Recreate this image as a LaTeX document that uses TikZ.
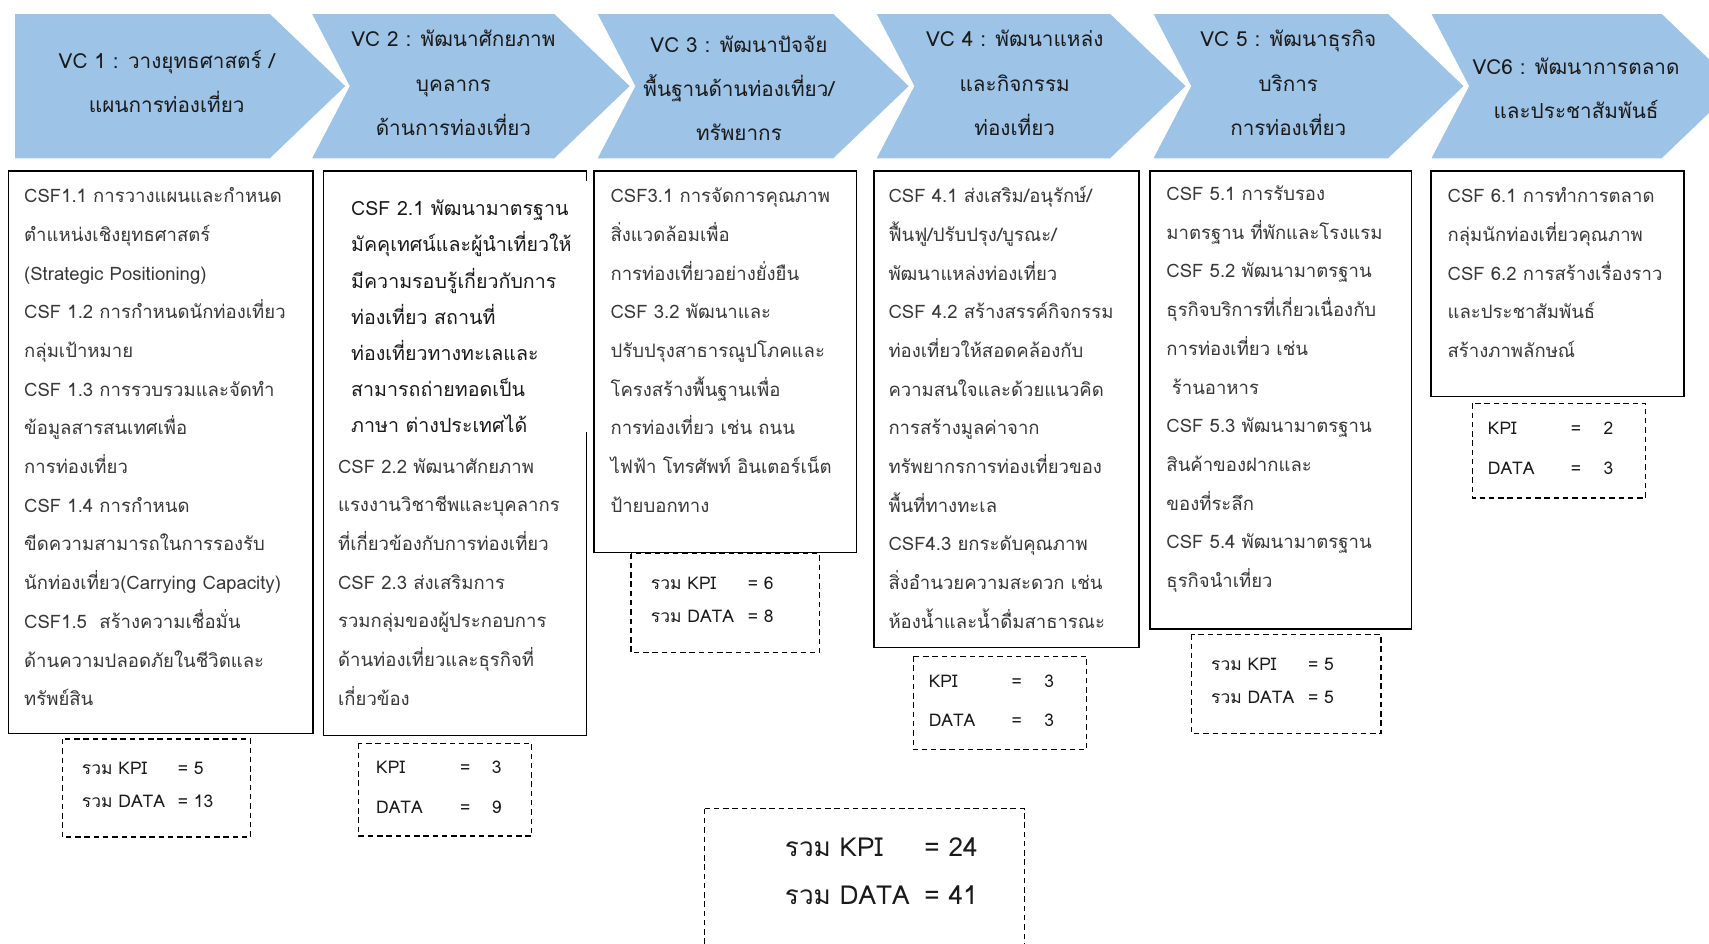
\documentclass[tikz,border=0pt]{standalone}
\usepackage{fontspec}
\setmainfont[Script=Thai]{Loma}
\definecolor{chev}{HTML}{9DC3E6}
\definecolor{txt}{HTML}{383838}
\definecolor{dtxt}{HTML}{1A1A1A}
\newcommand\blk[1]{\parbox[t]{420pt}{\raggedright #1}}
\newcommand\cblk[1]{\parbox[t]{300pt}{\centering #1}}
\tikzset{
  chevron/.style={fill=chev, draw=white, line width=1.5pt},
  csfbox/.style={draw=black, line width=1.3pt},
  sumbox/.style={draw=black, line width=1.1pt, dash pattern=on 5pt off 3.5pt},
  vctext/.style={anchor=base, inner sep=0pt, text=dtxt, font=\fontsize{19}{40.5}\selectfont},
  csftext/.style={anchor=base west, inner sep=0pt, text=txt, font=\fontsize{17}{35.5}\selectfont},
  sumtext/.style={anchor=base west, inner sep=0pt, text=dtxt, font=\fontsize{16}{30}\selectfont},
}
\begin{document}
\begin{tikzpicture}[x=1pt,y=-1pt]
\useasboundingbox (0,0) rectangle (1568,866);
\clip (0,0) rectangle (1568,866);
\fill[white] (0,0) rectangle (1568,866);

% chevrons
\draw[chevron] (13,12) -- (248,12) -- (318,79) -- (248,146) -- (13,146) -- cycle;
\draw[chevron] (285,12) -- (509,12) -- (579,79) -- (509,146) -- (285,146) -- (320,79) -- cycle;
\draw[chevron] (547,12) -- (765,12) -- (835,79) -- (765,146) -- (547,146) -- (582,79) -- cycle;
\draw[chevron] (803,12) -- (1019,12) -- (1089,79) -- (1019,146) -- (803,146) -- (838,79) -- cycle;
\draw[chevron] (1057,12) -- (1274,12) -- (1344,79) -- (1274,146) -- (1057,146) -- (1092,79) -- cycle;
\draw[chevron] (1312,12) -- (1525,12) -- (1595,79) -- (1525,146) -- (1312,146) -- (1347,79) -- cycle;

\node[vctext] (vc1) at (153,63) {\cblk{VC 1 : วางยุทธศาสตร์ /\\แผนการท่องเที่ยว}};
\node[vctext] (vc2) at (416,43) {\cblk{VC 2 : พัฒนาศักยภาพ\\บุคลากร\\ด้านการท่องเที่ยว}};
\node[vctext] (vc3) at (678,48) {\cblk{VC 3 : พัฒนาปัจจัย\\พื้นฐานด้านท่องเที่ยว/\\ทรัพยากร}};
\node[vctext] (vc4) at (931,43) {\cblk{VC 4 : พัฒนาแหล่ง\\และกิจกรรม\\ท่องเที่ยว}};
\node[vctext] (vc5) at (1182,43) {\cblk{VC 5 : พัฒนาธุรกิจ\\บริการ\\การท่องเที่ยว}};
\node[vctext] (vc6) at (1446,68) {\cblk{VC6 : พัฒนาการตลาด\\และประชาสัมพันธ์}};

% CSF boxes
\draw[csfbox] (8,157) rectangle (287,673);
\draw[csfbox] (297,157) rectangle (538,675);
\draw[csfbox] (545,157) rectangle (786,507);
\draw[csfbox] (802,157) rectangle (1045,594);
\draw[csfbox] (1055,157) rectangle (1295,577);
\draw[csfbox] (1313,157) rectangle (1545,364);

\node[csftext] (t1) at (22,186) {\blk{CSF1.1 การวางแผนและกำหนด\\ตำแหน่งเชิงยุทธศาสตร์\\(Strategic Positioning)\\CSF 1.2 การกำหนดนักท่องเที่ยว\\กลุ่มเป้าหมาย\\CSF 1.3 การรวบรวมและจัดทำ\\ข้อมูลสารสนเทศเพื่อ\\การท่องเที่ยว\\CSF 1.4 การกำหนด\\ขีดความสามารถในการรองรับ\\นักท่องเที่ยว(Carrying Capacity)\\CSF1.5\ \ สร้างความเชื่อมั่น\\ด้านความปลอดภัยในชีวิตและ\\ทรัพย์สิน}};

% overlay of CSF 2.1 covering right border
\fill[white] (299.5,166) rectangle (541,396);
\begin{scope}
\clip (299.5,166) rectangle (541,396);
\node[csftext, text=dtxt, font=\fontsize{18}{33.2}\selectfont] (t21) at (322,198) {\blk{CSF 2.1 พัฒนามาตรฐาน\\มัคคุเทศน์และผู้นำเที่ยวให้\\มีความรอบรู้เกี่ยวกับการ\\ท่องเที่ยว สถานที่\\ท่องเที่ยวทางทะเลและ\\สามารถถ่ายทอดเป็น\\ภาษา ต่างประเทศได้}};
\end{scope}
\node[csftext] (t22) at (310,434) {\blk{CSF 2.2 พัฒนาศักยภาพ\\แรงงานวิชาชีพและบุคลากร\\ที่เกี่ยวข้องกับการท่องเที่ยว\\CSF 2.3 ส่งเสริมการ\\รวมกลุ่มของผู้ประกอบการ\\ด้านท่องเที่ยวและธุรกิจที่\\เกี่ยวข้อง}};

\node[csftext] (t3) at (560,186) {\blk{CSF3.1 การจัดการคุณภาพ\\สิ่งแวดล้อมเพื่อ\\การท่องเที่ยวอย่างยั่งยืน\\CSF 3.2 พัฒนาและ\\ปรับปรุงสาธารณูปโภคและ\\โครงสร้างพื้นฐานเพื่อ\\การท่องเที่ยว เช่น ถนน\\ไฟฟ้า โทรศัพท์ อินเตอร์เน็ต\\ป้ายบอกทาง}};

\node[csftext] (t4) at (815,186) {\blk{CSF 4.1 ส่งเสริม/อนุรักษ์/\\ฟื้นฟู/ปรับปรุง/บูรณะ/\\พัฒนาแหล่งท่องเที่ยว\\CSF 4.2 สร้างสรรค์กิจกรรม\\ท่องเที่ยวให้สอดคล้องกับ\\ความสนใจและด้วยแนวคิด\\การสร้างมูลค่าจาก\\ทรัพยากรการท่องเที่ยวของ\\พื้นที่ทางทะเล\\CSF4.3 ยกระดับคุณภาพ\\สิ่งอำนวยความสะดวก เช่น\\ห้องน้ำและน้ำดื่มสาธารณะ}};

\node[csftext] (t5) at (1070,184) {\blk{CSF 5.1 การรับรอง\\มาตรฐาน ที่พักและโรงแรม\\CSF 5.2 พัฒนามาตรฐาน\\ธุรกิจบริการที่เกี่ยวเนื่องกับ\\การท่องเที่ยว เช่น\\\hspace*{5pt}ร้านอาหาร\\CSF 5.3 พัฒนามาตรฐาน\\สินค้าของฝากและ\\ของที่ระลึก\\CSF 5.4 พัฒนามาตรฐาน\\ธุรกิจนำเที่ยว}};

\node[csftext] (t6) at (1328,186) {\blk{CSF 6.1 การทำการตลาด\\กลุ่มนักท่องเที่ยวคุณภาพ\\CSF 6.2 การสร้างเรื่องราว\\และประชาสัมพันธ์\\สร้างภาพลักษณ์}};

% summary boxes
\draw[sumbox] (57,678) rectangle (230,768);
\node[sumtext] (s1) at (75,711) {\blk{\makebox[88pt][l]{รวม KPI}= 5\\\makebox[88pt][l]{รวม DATA}= 13}};

\draw[sumbox] (329,682) rectangle (488,767);
\node[sumtext, font=\fontsize{16}{36}\selectfont] (s2) at (345,710) {\blk{\makebox[77pt][l]{KPI}\makebox[29pt][l]{=}3\\\makebox[77pt][l]{DATA}\makebox[29pt][l]{=}9}};

\draw[sumbox] (579,508) rectangle (752,599);
\node[sumtext] (s3) at (597,541) {\blk{\makebox[89pt][l]{รวม KPI}= 6\\\makebox[89pt][l]{รวม DATA}= 8}};

\draw[sumbox] (838,602) rectangle (997,688);
\node[sumtext, font=\fontsize{16}{36}\selectfont] (s4) at (852,631) {\blk{\makebox[76pt][l]{KPI}\makebox[30pt][l]{=}3\\\makebox[76pt][l]{DATA}\makebox[30pt][l]{=}3}};

\draw[sumbox] (1093,582) rectangle (1267,673);
\node[sumtext] (s5) at (1111,615) {\blk{\makebox[89pt][l]{รวม KPI}= 5\\\makebox[89pt][l]{รวม DATA}= 5}};

\draw[sumbox] (1351,370) rectangle (1510,457);
\node[sumtext, font=\fontsize{16}{36}\selectfont] (s6) at (1365,399) {\blk{\makebox[76pt][l]{KPI}\makebox[30pt][l]{=}2\\\makebox[76pt][l]{DATA}\makebox[30pt][l]{=}3}};

\draw[sumbox] (646,742) rectangle (940,880);
\node[sumtext, font=\fontsize{24}{44}\selectfont] (tot) at (720,786) {\blk{\makebox[128pt][l]{รวม KPI}= 24\\\makebox[128pt][l]{รวม DATA}= 41}};
\end{tikzpicture}
\end{document}
